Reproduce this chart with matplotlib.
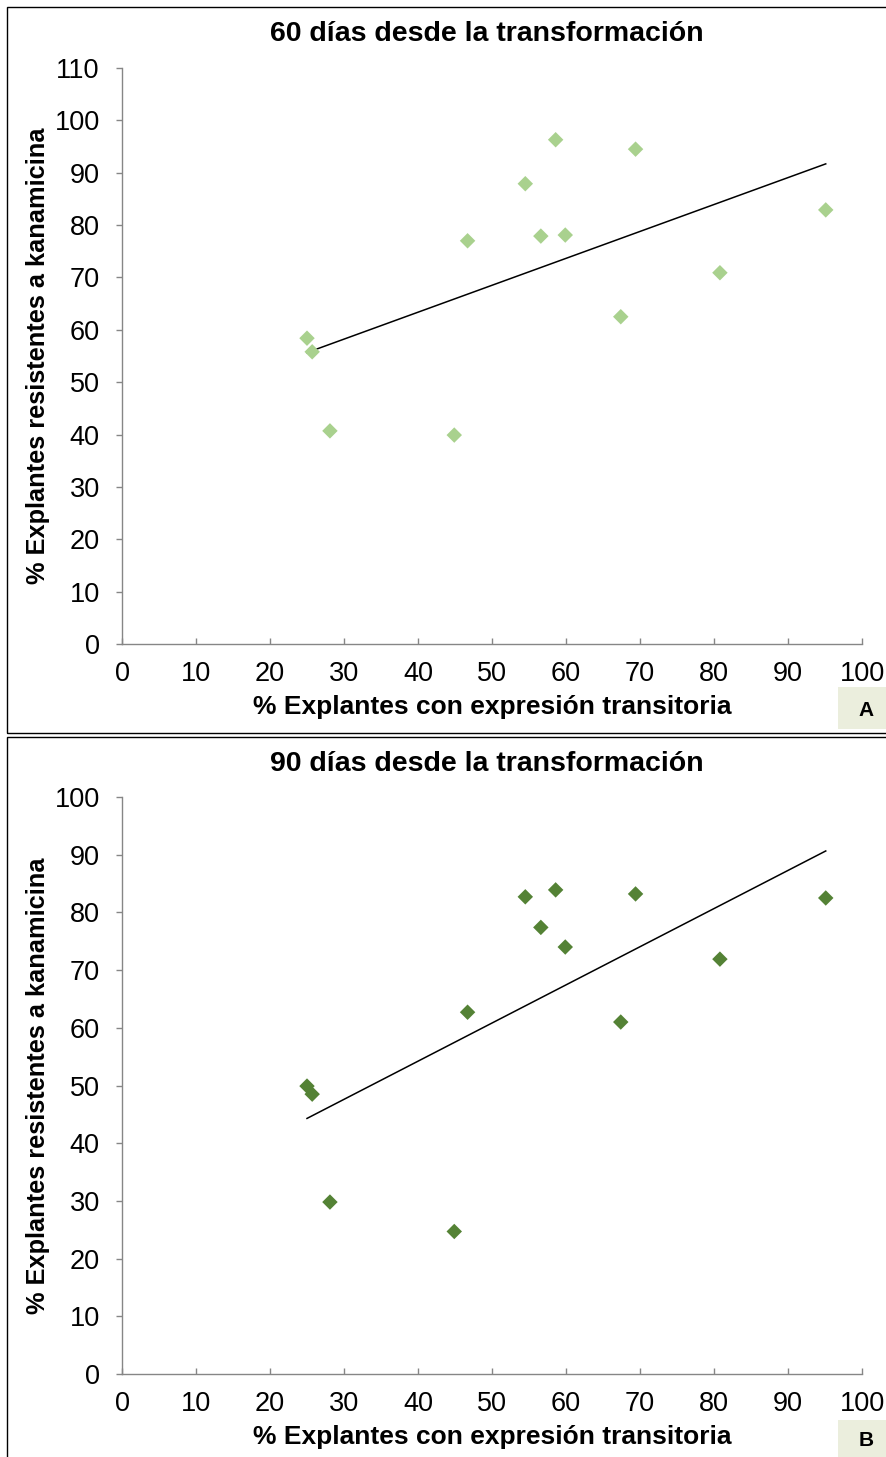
import numpy as np
import matplotlib
matplotlib.use("Agg")
import matplotlib.pyplot as plt
from matplotlib.patches import Rectangle

plt.rcParams['font.family'] = ['Liberation Sans', 'DejaVu Sans']

# Data
x_expr = [25.0, 25.7, 28.1, 44.9, 46.7, 54.5, 56.6, 58.6, 59.9, 67.4, 69.4, 80.8, 95.1]
y_60 = [58.4, 55.8, 40.7, 39.9, 77.0, 87.9, 77.9, 96.3, 78.1, 62.5, 94.5, 70.9, 82.9]
y_90 = [49.9, 48.5, 29.8, 24.7, 62.7, 82.7, 77.4, 83.9, 74.0, 61.0, 83.2, 71.9, 82.5]
titles = ["60 días desde la transformación", "90 días desde la transformación"]
xlabel = "% Explantes con expresión transitoria"
ylabel = "% Explantes resistentes a kanamicina"
panel_labels = ["A", "B"]
x_ticks = list(range(0, 101, 10))
y_ticks_60 = list(range(0, 111, 10))
y_ticks_90 = list(range(0, 101, 10))

W, H = 886, 1457
fig = plt.figure(figsize=(W / 100, H / 100), dpi=100)

def fx(px):
    return px / W

def fy(py):
    return 1 - py / H

axis_grey = '#868686'

panels = [
    dict(y=y_60, yt=y_ticks_60, ymax=110, top=68, bot=644, color='#A9D18E',
         title_base=41, xlabel_base=714, box=(7, 7, 892, 733), lab_box=(838, 687, 886, 729)),
    dict(y=y_90, yt=y_ticks_90, ymax=100, top=797, bot=1374, color='#548235',
         title_base=771, xlabel_base=1444, box=(7, 737, 892, 1462), lab_box=(838, 1420, 886, 1457)),
]

for i, p in enumerate(panels):
    # panel border
    x0, y0, x1, y1 = p['box']
    fig.patches.append(Rectangle((fx(x0), fy(y1)), fx(x1 - x0), (y1 - y0) / H,
                                 transform=fig.transFigure, fill=False,
                                 edgecolor='black', linewidth=1.0, zorder=0))
    lx0, ly0, lx1, ly1 = p['lab_box']
    fig.patches.append(Rectangle((fx(lx0), fy(ly1)), fx(lx1 - lx0), (ly1 - ly0) / H,
                                 transform=fig.transFigure, facecolor='#EBEEDD',
                                 edgecolor='none', zorder=1))
    fig.text(fx(866), fy((ly0 + ly1) / 2 + 2), panel_labels[i],
             ha='center', va='center', fontsize=15, fontweight='bold')

    ax = fig.add_axes([fx(122), fy(p['bot']), fx(862 - 122), (p['bot'] - p['top']) / H])
    ax.set_xlim(0, 100)
    ax.set_ylim(0, p['ymax'])
    ax.set_xticks(x_ticks)
    ax.set_yticks(p['yt'])
    for s in ['top', 'right']:
        ax.spines[s].set_visible(False)
    for s in ['left', 'bottom']:
        ax.spines[s].set_color(axis_grey)
        ax.spines[s].set_linewidth(1.0)
    ax.tick_params(axis='both', length=4.5, width=1.0,
                   color=axis_grey, labelsize=19.5, labelcolor='black')
    ax.tick_params(axis='y', direction='out', pad=11.5)
    ax.tick_params(axis='x', direction='in', pad=12.5)

    ax.scatter(x_expr, p['y'], marker='D', s=62, color=p['color'],
               edgecolors='none', zorder=3, clip_on=False)
    coef = np.polyfit(x_expr, p['y'], 1)
    xs = np.array([min(x_expr), max(x_expr)])
    ax.plot(xs, np.polyval(coef, xs), color='black', linewidth=1.1, zorder=2)

    fig.text(fx(487), fy(p['title_base']), titles[i], ha='center', va='baseline',
             fontsize=20.5, fontweight='bold')
    fig.text(fx(492), fy(p['xlabel_base']), xlabel, ha='center', va='baseline',
             fontsize=19, fontweight='bold')
    fig.text(fx(38), fy((p['top'] + p['bot']) / 2), ylabel, ha='center', va='center',
             rotation=90, fontsize=18.3, fontweight='bold')

fig.savefig('out.png', dpi=100)
